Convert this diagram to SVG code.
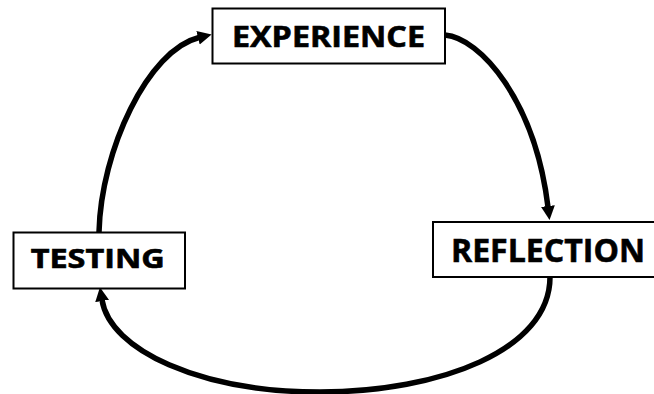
<svg xmlns="http://www.w3.org/2000/svg" width="654" height="394" viewBox="0 0 654 394">
  <style>
    .box { fill: #ffffff; stroke: #000000; stroke-width: 2; }
    .lbl { font-family: "Open Sans", "DejaVu Sans", sans-serif; font-weight: 700; fill: #000000; stroke: #000000; stroke-width: 0.6; }
    .conn { fill: none; stroke: #000000; stroke-width: 5.5; marker-end: url(#ah); }
  </style>
  <defs>
    <marker id="ah" markerUnits="userSpaceOnUse" markerWidth="16" markerHeight="16" viewBox="0 -8 16 16" refX="1" refY="0" orient="auto">
      <path d="M0,-7 L14,0 L0,7 Z" fill="#000000"/>
    </marker>
  </defs>
  <rect width="654" height="394" fill="#ffffff"/>
  <g id="connectors">
    <path class="conn" d="M99,232 C101,150 148,50 199,37.5"/>
    <path class="conn" d="M445,35 C480,38 535,100 548,207"/>
    <path class="conn" d="M550,277 C550,350 440,392 320,392 C200,392 110,350 102,300"/>
  </g>
  <g id="experience">
    <rect class="box" x="212.5" y="8.5" width="232.5" height="55"/>
    <text class="lbl" x="232" y="46.7" font-size="28" textLength="193" lengthAdjust="spacingAndGlyphs">EXPERIENCE</text>
  </g>
  <g id="reflection">
    <rect class="box" x="433" y="222" width="240" height="55"/>
    <text class="lbl" x="451" y="261.7" font-size="33" textLength="194" lengthAdjust="spacingAndGlyphs">REFLECTION</text>
  </g>
  <g id="testing">
    <rect class="box" x="13.5" y="232.5" width="171.5" height="56"/>
    <text class="lbl" x="30.7" y="267.7" font-size="26" textLength="134" lengthAdjust="spacingAndGlyphs">TESTING</text>
  </g>
</svg>
